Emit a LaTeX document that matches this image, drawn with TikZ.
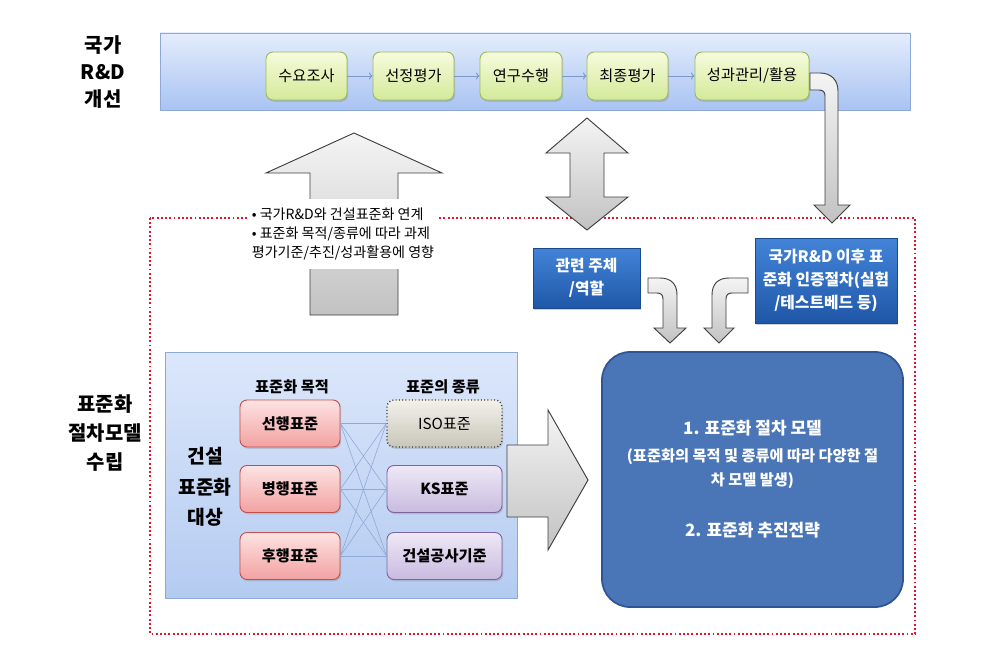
\documentclass[tikz,border=0pt]{standalone}
\usepackage{fontspec}
\setmainfont{Noto Sans CJK KR}
\usepackage{tikz}
\usetikzlibrary{positioning,calc,shadows,arrows.meta}

\definecolor{bandtop}{HTML}{E4EDFC}
\definecolor{bandbot}{HTML}{A9C3F2}
\definecolor{bandline}{HTML}{8EA9D8}
\definecolor{stagetop}{HTML}{F6FBDD}
\definecolor{stagebot}{HTML}{D3EA98}
\definecolor{stageline}{HTML}{9BBB59}
\definecolor{flowcol}{HTML}{7D98C6}
\definecolor{paneltop}{HTML}{DCE7FA}
\definecolor{panelbot}{HTML}{B4CBF1}
\definecolor{pinktop}{HTML}{FDE3E3}
\definecolor{pinkbot}{HTML}{F3A1A1}
\definecolor{pinkline}{HTML}{C0504D}
\definecolor{isotop}{HTML}{F2F1EA}
\definecolor{isobot}{HTML}{C9C6BA}
\definecolor{lavtop}{HTML}{EEE8F6}
\definecolor{lavbot}{HTML}{C8BBDF}
\definecolor{lavline}{HTML}{8064A2}
\definecolor{bluetop}{HTML}{4384D8}
\definecolor{bluebot}{HTML}{1F57A8}
\definecolor{blueline}{HTML}{1B4A8A}
\definecolor{mainfill}{HTML}{4A76B8}
\definecolor{mainline}{HTML}{2F5597}
\definecolor{arrowtop}{HTML}{F4F4F4}
\definecolor{arrowbot}{HTML}{C2C2C2}
\definecolor{arrowline}{HTML}{3F3F3F}
\definecolor{dotred}{HTML}{E8102A}
\definecolor{linkcol}{HTML}{8EA9D8}

\begin{document}
\begin{tikzpicture}[x=0.03cm, y=-0.03cm,
    stagebox/.style={draw=stageline, line width=0.8pt, rounded corners=6pt,
      top color=stagetop, bottom color=stagebot, minimum height=1.44cm,
      font=\fontsize{13pt}{15pt}\selectfont,
      drop shadow={shadow xshift=1pt, shadow yshift=-1.5pt, opacity=0.3}},
    flow/.style={draw=flowcol, line width=0.8pt, -{To[length=3pt,width=6pt]}},
    sidelabel/.style={align=center, font=\bfseries\fontsize{17pt}{23pt}\selectfont},
    header/.style={font=\bfseries\fontsize{13pt}{15pt}\selectfont},
    aimbox/.style={draw=pinkline, line width=0.8pt, rounded corners=6pt,
      top color=pinktop, bottom color=pinkbot, minimum width=3cm, minimum height=1.41cm,
      font=\bfseries\fontsize{13pt}{15pt}\selectfont,
      drop shadow={shadow xshift=1pt, shadow yshift=-1.5pt, opacity=0.3}},
    kindbox/.style={draw=lavline, line width=0.8pt, rounded corners=6pt,
      top color=lavtop, bottom color=lavbot, minimum width=3.45cm, minimum height=1.41cm,
      font=\bfseries\fontsize{13pt}{15pt}\selectfont,
      drop shadow={shadow xshift=1pt, shadow yshift=-1.5pt, opacity=0.3}},
    link/.style={draw=linkcol, line width=0.5pt},
    rolebox/.style={draw=blueline, line width=0.8pt, top color=bluetop, bottom color=bluebot,
      text=white, align=center, font=\bfseries\fontsize{13.5pt}{19.5pt}\selectfont,
      drop shadow={shadow xshift=1pt, shadow yshift=-1.5pt, opacity=0.35}},
    blockarrow/.style={draw=arrowline, line width=0.8pt, top color=arrowtop, bottom color=arrowbot},
  ]
  \useasboundingbox[fill=white] (0,0) rectangle (982,646);

  % top band
  \draw[draw=bandline, top color=bandtop, bottom color=bandbot] (160,33) rectangle (910,110);
  \node[sidelabel] (lab1) at (103,72) {국가\\R\&D\\개선};

  \node[stagebox, minimum width=2.43cm] (s1) at (306.5,76) {수요조사};
  \node[stagebox, minimum width=2.43cm] (s2) at (413.5,76) {선정평가};
  \node[stagebox, minimum width=2.46cm] (s3) at (521,76) {연구수행};
  \node[stagebox, minimum width=2.43cm] (s4) at (627.5,76) {최종평가};
  \node[stagebox, minimum width=3.42cm] (s5) at (752,76) {성과관리/활용};
  \foreach \a/\b in {s1/s2,s2/s3,s3/s4,s4/s5}
    \draw[flow] (\a) -- (\b);

  % lower region
  \draw[draw=dotred, dotted, line width=1.6pt] (150,218) rectangle (915,634);
  \node[sidelabel, font=\bfseries\fontsize{17pt}{25pt}\selectfont] (lab2) at (105,433) {표준화\\절차모델\\수립};

  % big arrows
  \draw[blockarrow] (310,315) -- (310,173) -- (266,173) -- (354,133) -- (442,173)
    -- (398,173) -- (398,315) -- cycle;
  \node[fill=white, inner xsep=3pt, inner ysep=8pt, align=left,
    font=\fontsize{12pt}{16pt}\selectfont] (note) at (343,234)
    {• 국가R\&D와 건설표준화 연계\\• 표준화 목적/종류에 따라 과제\\평가기준/추진/성과활용에 영향};

  \draw[blockarrow] (570,153) -- (546,153) -- (587,118) -- (628,153) -- (604,153)
    -- (604,197) -- (628,197) -- (587,230) -- (546,197) -- (570,197) -- cycle;

  \draw[blockarrow] (810,73) -- (820,73) .. controls (831,73) and (838,80) .. (838,91)
    -- (838,205) -- (850,205) -- (832,223) -- (814,205) -- (825,205) -- (825,96)
    .. controls (825,92) and (823,90) .. (819,90) -- (810,90) -- cycle;

  % role boxes
  \node[rolebox, minimum width=3.21cm, minimum height=1.8cm] (role) at (586.5,278) {관련 주체\\/역할};
  \node[rolebox, minimum width=4.26cm, minimum height=2.55cm] (cert) at (826,280.5)
    {국가R\&D 이후 표\\준화 인증절차(실험\\/테스트베드 등)};

  \draw[blockarrow] (648,278) -- (660,278) .. controls (671,278) and (677,284) .. (677,295)
    -- (677,328) -- (686,328) -- (670,343) -- (654,328) -- (663,328) -- (663,299)
    .. controls (663,295) and (661,293) .. (657,293) -- (648,293) -- cycle;
  \draw[blockarrow] (748,278) -- (729,278) .. controls (718,278) and (712,284) .. (712,295)
    -- (712,328) -- (704,328) -- (719,343) -- (734,328) -- (726,328) -- (726,299)
    .. controls (726,295) and (728,293) .. (732,293) -- (748,293) -- cycle;

  % standardisation panel
  \draw[draw=bandline, top color=paneltop, bottom color=panelbot] (165,352) rectangle (517,598);
  \node[sidelabel, font=\bfseries\fontsize{16.5pt}{26pt}\selectfont] (target) at (205,487) {건설\\표준화\\대상};
  \node[header] (aimhead) at (292,387) {표준화 목적};
  \node[header] (kindhead) at (443,387) {표준의 종류};

  \node[aimbox] (p1) at (290,423.5) {선행표준};
  \node[aimbox] (p2) at (290,489) {병행표준};
  \node[aimbox] (p3) at (290,556) {후행표준};
  \node[kindbox, draw=black!80, dotted, line width=1.2pt, top color=isotop, bottom color=isobot,
    font=\fontsize{13pt}{15pt}\selectfont] (k1) at (444.5,423.5) {ISO표준};
  \node[kindbox] (k2) at (444.5,489) {KS표준};
  \node[kindbox] (k3) at (444.5,556) {건설공사기준};
  \foreach \i in {1,2,3}
    \foreach \j in {1,2,3}
      \draw[link] (p\i.east) -- (k\j.west);

  \draw[blockarrow] (507,445) -- (548,445) -- (548,410) -- (588,480) -- (548,550)
    -- (548,517) -- (507,517) -- cycle;

  % model box
  \node[draw=mainline, line width=1.5pt, fill=mainfill, rounded corners=24pt,
    minimum width=9.03cm, minimum height=7.65cm, text=white, align=center,
    font=\bfseries\fontsize{13pt}{20pt}\selectfont] (model) at (752.5,479.5)
    {{\fontsize{14.5pt}{17pt}\selectfont 1. 표준화 절차 모델}\\[3pt]
     (표준화의 목적 및 종류에 따라 다양한 절\\차 모델 발생)\\[24pt]
     {\fontsize{14.5pt}{17pt}\selectfont 2. 표준화 추진전략}};
\end{tikzpicture}
\end{document}
